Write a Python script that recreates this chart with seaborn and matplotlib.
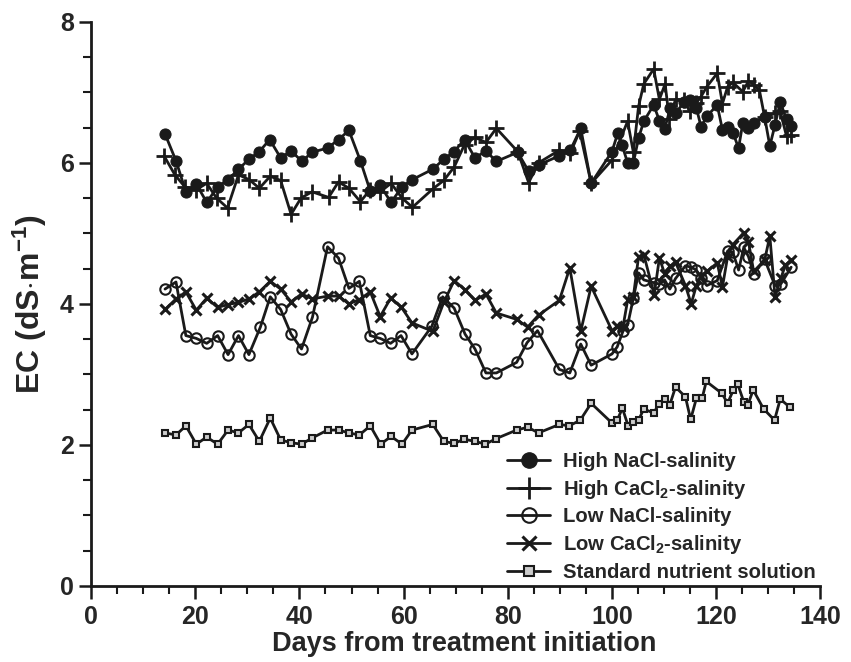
import numpy as np
import pandas as pd
import matplotlib
matplotlib.use('Agg')
import matplotlib.pyplot as plt
import seaborn as sns

#data
hi_nacl_day = [14.2, 16.3, 18.2, 20.2, 22.2, 24.3, 26.3, 28.3, 30.3, 32.3, 34.3, 36.4, 38.4, 40.5, 42.4,
               45.4, 47.5, 49.5, 51.7, 53.6, 55.5, 57.6, 59.7, 61.6, 65.6, 67.7, 69.7, 71.7, 73.7, 75.8,
               77.8, 81.9, 84.0, 85.9, 89.9, 92.0, 94.0, 96.0, 100.0, 101.1, 101.9, 103.0, 104.1, 105.1,
               106.1, 108.0, 109.1, 110.1, 111.2, 112.2, 113.8, 114.9, 116.2, 117.1, 118.2, 120.2, 121.2,
               122.2, 123.2, 124.3, 125.1, 126.2, 127.2, 129.3, 130.3, 131.3, 132.3, 133.5, 134.4]
hi_nacl_ec = [6.41, 6.03, 5.59, 5.70, 5.44, 5.66, 5.76, 5.91, 6.05, 6.16, 6.33, 6.07, 6.17, 6.02, 6.15,
              6.21, 6.33, 6.46, 6.03, 5.60, 5.68, 5.44, 5.66, 5.76, 5.91, 6.05, 6.16, 6.33, 6.07, 6.17,
              6.02, 6.15, 5.88, 5.97, 6.10, 6.18, 6.49, 5.71, 6.16, 6.42, 6.26, 6.00, 6.00, 6.35,
              6.59, 6.82, 6.60, 6.48, 6.78, 6.70, 6.86, 6.89, 6.78, 6.51, 6.66, 6.82, 6.47,
              6.51, 6.43, 6.21, 6.56, 6.49, 6.56, 6.65, 6.24, 6.54, 6.86, 6.62, 6.52]

hi_cacl_day = [14.0, 16.1, 18.0, 20.2, 22.2, 24.1, 26.2, 28.3, 30.4, 32.3, 34.4, 36.4, 38.4, 40.3, 42.4,
               45.6, 47.5, 49.5, 51.7, 53.6, 55.5, 57.6, 59.7, 61.7, 65.6, 67.7, 69.7, 71.7, 73.7, 75.8,
               77.8, 81.9, 84.0, 85.9, 89.9, 92.0, 93.8, 96.0, 100.0, 103.0, 104.1, 105.1, 106.1, 108.0,
               109.1, 110.2, 111.0, 112.2, 113.8, 114.9, 116.2, 117.1, 118.2, 120.2, 121.2, 122.2, 123.2,
               125.1, 126.2, 127.2, 128.3, 129.3, 131.3, 132.3, 133.5, 134.4]
hi_cacl_ec = [6.10, 5.83, 5.66, 5.62, 5.71, 5.50, 5.36, 5.83, 5.76, 5.64, 5.81, 5.75, 5.27, 5.50, 5.59,
              5.51, 5.73, 5.64, 5.45, 5.62, 5.59, 5.71, 5.50, 5.37, 5.63, 5.75, 5.94, 6.26, 6.36, 6.29,
              6.49, 6.16, 5.72, 6.00, 6.18, 6.14, 6.45, 5.71, 6.04, 6.59, 6.15, 6.80, 7.12, 7.33,
              6.90, 7.12, 6.62, 6.90, 6.89, 6.73, 6.85, 6.94, 7.08, 7.27, 6.84, 7.08, 7.14,
              7.01, 7.16, 7.11, 7.03, 6.65, 6.70, 6.73, 6.38, 6.40]

lo_nacl_day = [14.2, 16.3, 18.2, 20.2, 22.2, 24.3, 26.3, 28.3, 30.3, 32.5, 34.4, 36.4, 38.4, 40.4, 42.5,
               45.4, 47.5, 49.5, 51.5, 53.6, 55.5, 57.5, 59.5, 61.6, 65.4, 67.5, 69.7, 71.8, 73.7, 75.8,
               77.8, 81.7, 83.7, 85.7, 89.9, 91.9, 94.0, 96.0, 100.0, 101.0, 102.1, 103.0, 104.1, 105.1,
               106.1, 108.1, 109.1, 110.1, 111.1, 112.2, 114.1, 115.2, 116.2, 117.1, 118.2, 120.2, 122.2,
               123.2, 124.3, 125.3, 126.2, 127.2, 129.3, 131.3, 132.4, 134.4]
lo_nacl_ec = [4.21, 4.31, 3.55, 3.51, 3.44, 3.55, 3.28, 3.55, 3.28, 3.67, 4.10, 3.92, 3.57, 3.36, 3.81,
              4.81, 4.65, 4.22, 4.32, 3.55, 3.51, 3.44, 3.55, 3.29, 3.68, 4.10, 3.94, 3.57, 3.36, 3.02,
              3.02, 3.17, 3.45, 3.62, 3.07, 3.02, 3.43, 3.13, 3.29, 3.39, 3.61, 3.70, 4.08, 4.44,
              4.34, 4.30, 4.28, 4.34, 4.21, 4.36, 4.54, 4.52, 4.48, 4.36, 4.26, 4.33, 4.75,
              4.73, 4.48, 4.80, 4.67, 4.43, 4.63, 4.26, 4.28, 4.52]

lo_cacl_day = [14.2, 16.3, 18.2, 20.2, 22.2, 24.3, 26.3, 28.3, 30.3, 32.3, 34.4, 36.4, 38.4, 40.4, 42.5,
               45.4, 47.5, 49.5, 51.5, 53.6, 55.5, 57.5, 59.5, 61.6, 65.6, 67.7, 69.7, 71.8, 73.7, 75.8,
               77.8, 81.7, 83.8, 85.9, 89.9, 91.9, 94.0, 96.0, 100.0, 101.0, 102.1, 103.0, 104.1, 105.1,
               106.1, 108.1, 109.1, 110.1, 111.1, 112.2, 114.1, 115.2, 116.2, 117.1, 118.2, 120.2, 121.2,
               122.2, 123.2, 125.3, 126.2, 127.2, 129.3, 130.3, 131.3, 132.4, 133.3, 134.4]
lo_cacl_ec = [3.92, 4.07, 4.17, 3.91, 4.08, 3.95, 3.99, 4.02, 4.07, 4.17, 4.32, 4.21, 4.03, 4.14, 4.07,
              4.11, 4.11, 4.00, 4.06, 4.17, 3.82, 4.08, 3.96, 3.73, 3.61, 4.02, 4.33, 4.20, 4.05, 4.14,
              3.87, 3.78, 3.67, 3.84, 4.05, 4.51, 3.61, 4.25, 3.62, 3.68, 3.67, 4.05, 4.10, 4.67,
              4.70, 4.13, 4.65, 4.43, 4.53, 4.59, 4.26, 4.00, 4.26, 4.39, 4.46, 4.58, 4.24,
              4.67, 4.84, 5.01, 4.88, 4.46, 4.62, 4.96, 4.10, 4.36, 4.55, 4.62]

std_day = [14.2, 16.3, 18.2, 20.2, 22.2, 24.3, 26.3, 28.3, 30.3, 32.3, 34.4, 36.4, 38.4, 40.4, 42.5,
           45.4, 47.5, 49.5, 51.5, 53.6, 55.6, 57.6, 59.7, 61.6, 65.6, 67.7, 69.7, 71.6, 73.7, 75.7,
           77.8, 81.7, 83.8, 85.9, 89.9, 91.8, 93.9, 96.0, 100.0, 101.0, 102.0, 103.1, 104.0, 105.1,
           106.1, 108.0, 109.0, 110.1, 111.1, 112.2, 114.1, 115.1, 116.2, 117.3, 118.1, 121.1, 122.2,
           123.3, 124.1, 125.3, 126.1, 127.1, 129.1, 131.2, 132.3, 134.2]
std_ec = [2.17, 2.14, 2.27, 2.01, 2.11, 2.01, 2.21, 2.17, 2.29, 2.05, 2.38, 2.07, 2.03, 2.01, 2.10,
          2.21, 2.21, 2.17, 2.14, 2.27, 2.01, 2.12, 2.01, 2.21, 2.29, 2.05, 2.02, 2.08, 2.05, 2.01,
          2.09, 2.21, 2.25, 2.17, 2.29, 2.27, 2.35, 2.59, 2.31, 2.35, 2.52, 2.27, 2.32, 2.35,
          2.51, 2.45, 2.58, 2.65, 2.57, 2.82, 2.68, 2.36, 2.66, 2.66, 2.90, 2.73, 2.59,
          2.78, 2.87, 2.61, 2.57, 2.78, 2.51, 2.35, 2.65, 2.53]

sns.set_style('ticks')
plt.rcParams['font.family'] = ['Liberation Sans', 'DejaVu Sans']
plt.rcParams['font.weight'] = 'bold'
plt.rcParams['mathtext.fontset'] = 'custom'
plt.rcParams['mathtext.rm'] = 'Liberation Sans:bold'
plt.rcParams['mathtext.it'] = 'Liberation Sans:bold'
plt.rcParams['mathtext.bf'] = 'Liberation Sans:bold'
plt.rcParams['mathtext.default'] = 'rm'

fig = plt.figure(figsize=(8.51, 6.62), dpi=100)
ax = fig.add_axes([0.107, 0.115, 0.857, 0.852])

blk = '#1a1a1a'
series = [
    (hi_nacl_day, hi_nacl_ec, 'High NaCl-salinity', dict(marker='o', markersize=8, markerfacecolor=blk, markeredgecolor=blk)),
    (hi_cacl_day, hi_cacl_ec, 'High CaCl$_2$-salinity', dict(marker='+', markersize=11, markeredgewidth=2, markeredgecolor=blk)),
    (lo_nacl_day, lo_nacl_ec, 'Low NaCl-salinity', dict(marker='o', markersize=7.5, markerfacecolor='none', markeredgecolor=blk, markeredgewidth=1.5)),
    (lo_cacl_day, lo_cacl_ec, 'Low CaCl$_2$-salinity', dict(marker='x', markersize=7.5, markeredgewidth=2.2, markeredgecolor=blk)),
    (std_day, std_ec, 'Standard nutrient solution', dict(marker='s', markersize=5, markerfacecolor='#cccccc', markeredgecolor=blk, markeredgewidth=1.5)),
]
for d, v, lab, kw in series:
    df = pd.DataFrame({'day': d, 'ec': v})
    sns.lineplot(data=df, x='day', y='ec', ax=ax, color=blk, linewidth=2, label=lab,
                 estimator=None, sort=False, **kw)

ax.set_xlim(0, 140)
ax.set_ylim(0, 8)
ax.set_xticks(np.arange(0, 141, 20))
ax.set_xticks(np.arange(0, 141, 5), minor=True)
ax.set_yticks(np.arange(0, 9, 2))
ax.set_yticks(np.arange(0, 8.1, 0.5), minor=True)
ax.tick_params(which='major', length=9, width=1.8, labelsize=18, color=blk)
ax.tick_params(which='minor', length=6, width=1.5, color=blk)
ax.tick_params(axis='x', which='major', pad=5)
for t in ax.get_xticklabels() + ax.get_yticklabels():
    t.set_fontweight('bold')
sns.despine(ax=ax)
for s in ['left', 'bottom']:
    ax.spines[s].set_linewidth(2)
    ax.spines[s].set_color(blk)

ax.set_xlabel('Days from treatment initiation', fontsize=19.5, fontweight='bold', labelpad=0)
ax.xaxis.set_label_coords(0.512, -0.08)
ax.set_ylabel('EC (dS$\\cdot$m$^{-1}$)', fontsize=23, fontweight='bold', labelpad=8)

leg = ax.legend(loc='lower right', bbox_to_anchor=(1.019, -0.025), frameon=False, fontsize=14.6,
                handlelength=2.1, labelspacing=0.33, handletextpad=0.65, markerscale=1.4)
for t in leg.get_texts():
    t.set_fontweight('bold')

fig.savefig('out.png', dpi=100)
